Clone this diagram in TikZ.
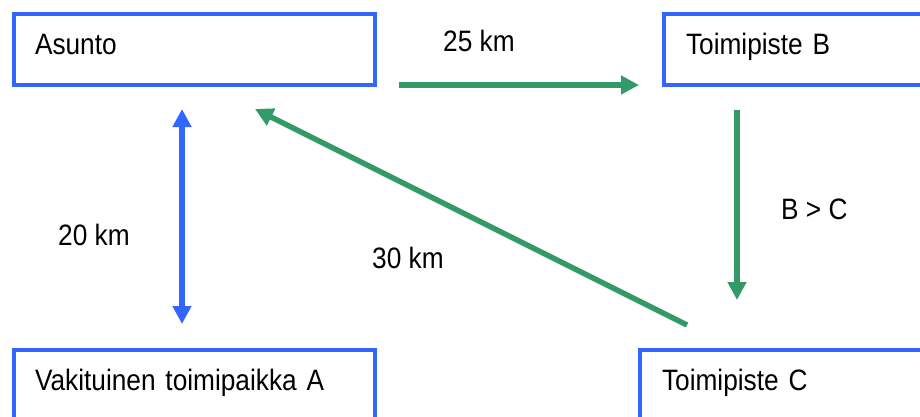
\documentclass[tikz,border=0pt]{standalone}
\usepackage{fontspec}
\setmainfont[FakeStretch=0.89]{Liberation Sans}
\usetikzlibrary{arrows.meta,calc}
\definecolor{boxblue}{RGB}{51,102,255}
\definecolor{arrgreen}{RGB}{51,153,102}
\begin{document}
\begin{tikzpicture}[x=1pt,y=-1pt,
  font=\fontsize{29.5}{32}\selectfont,
  box/.style={draw=boxblue,line width=4pt,outer sep=0pt,align=left,
    text height=21pt,text depth=11pt,inner ysep=0pt,minimum height=71pt},
  garrow/.style={draw=arrgreen,line width=5.5pt,-{Triangle[length=18pt,width=18pt]}},
  barrow/.style={draw=boxblue,line width=5.5pt,{Triangle[length=18pt,width=18pt]}-{Triangle[length=18pt,width=18pt]}},
  lbl/.style={anchor=base west,inner sep=0pt}]
\clip (0,0) rectangle (920,417);
\fill[white] (0,0) rectangle (920,417);
\node[box,inner xsep=21pt,text width=319pt] (as) at (194.5,49.5) {Asunto};
\node[box,inner xsep=22pt,text width=232pt] (tb) at (802,49.5) {Toimipiste B};
\node[box,inner xsep=21pt,text width=319pt] (va) at (194.5,385.5) {Vakituinen toimipaikka A};
\node[box,inner xsep=22pt,text width=256pt] (tc) at (790,385.5) {Toimipiste C};
\draw[garrow] ($(as.south east)+(24,0)$) -- ($(tb.south west)+(-25,0)$);
\draw[garrow] ($(tb.south west)+(73,25)$) -- ($(tc.north west)+(97,-50)$);
\draw[garrow] ($(tc.north west)+(47,-25)$) -- ($(as.south west)+(241,24)$);
\draw[barrow] ($(as.south west)+(168,24)$) -- ($(va.north west)+(168,-26)$);
\node[lbl] (l25) at (443,52) {25 km};
\node[lbl] (lbc) at (781,219) {B > C};
\node[lbl] (l30) at (372,268) {30 km};
\node[lbl] (l20) at (58,245) {20 km};
\end{tikzpicture}
\end{document}
